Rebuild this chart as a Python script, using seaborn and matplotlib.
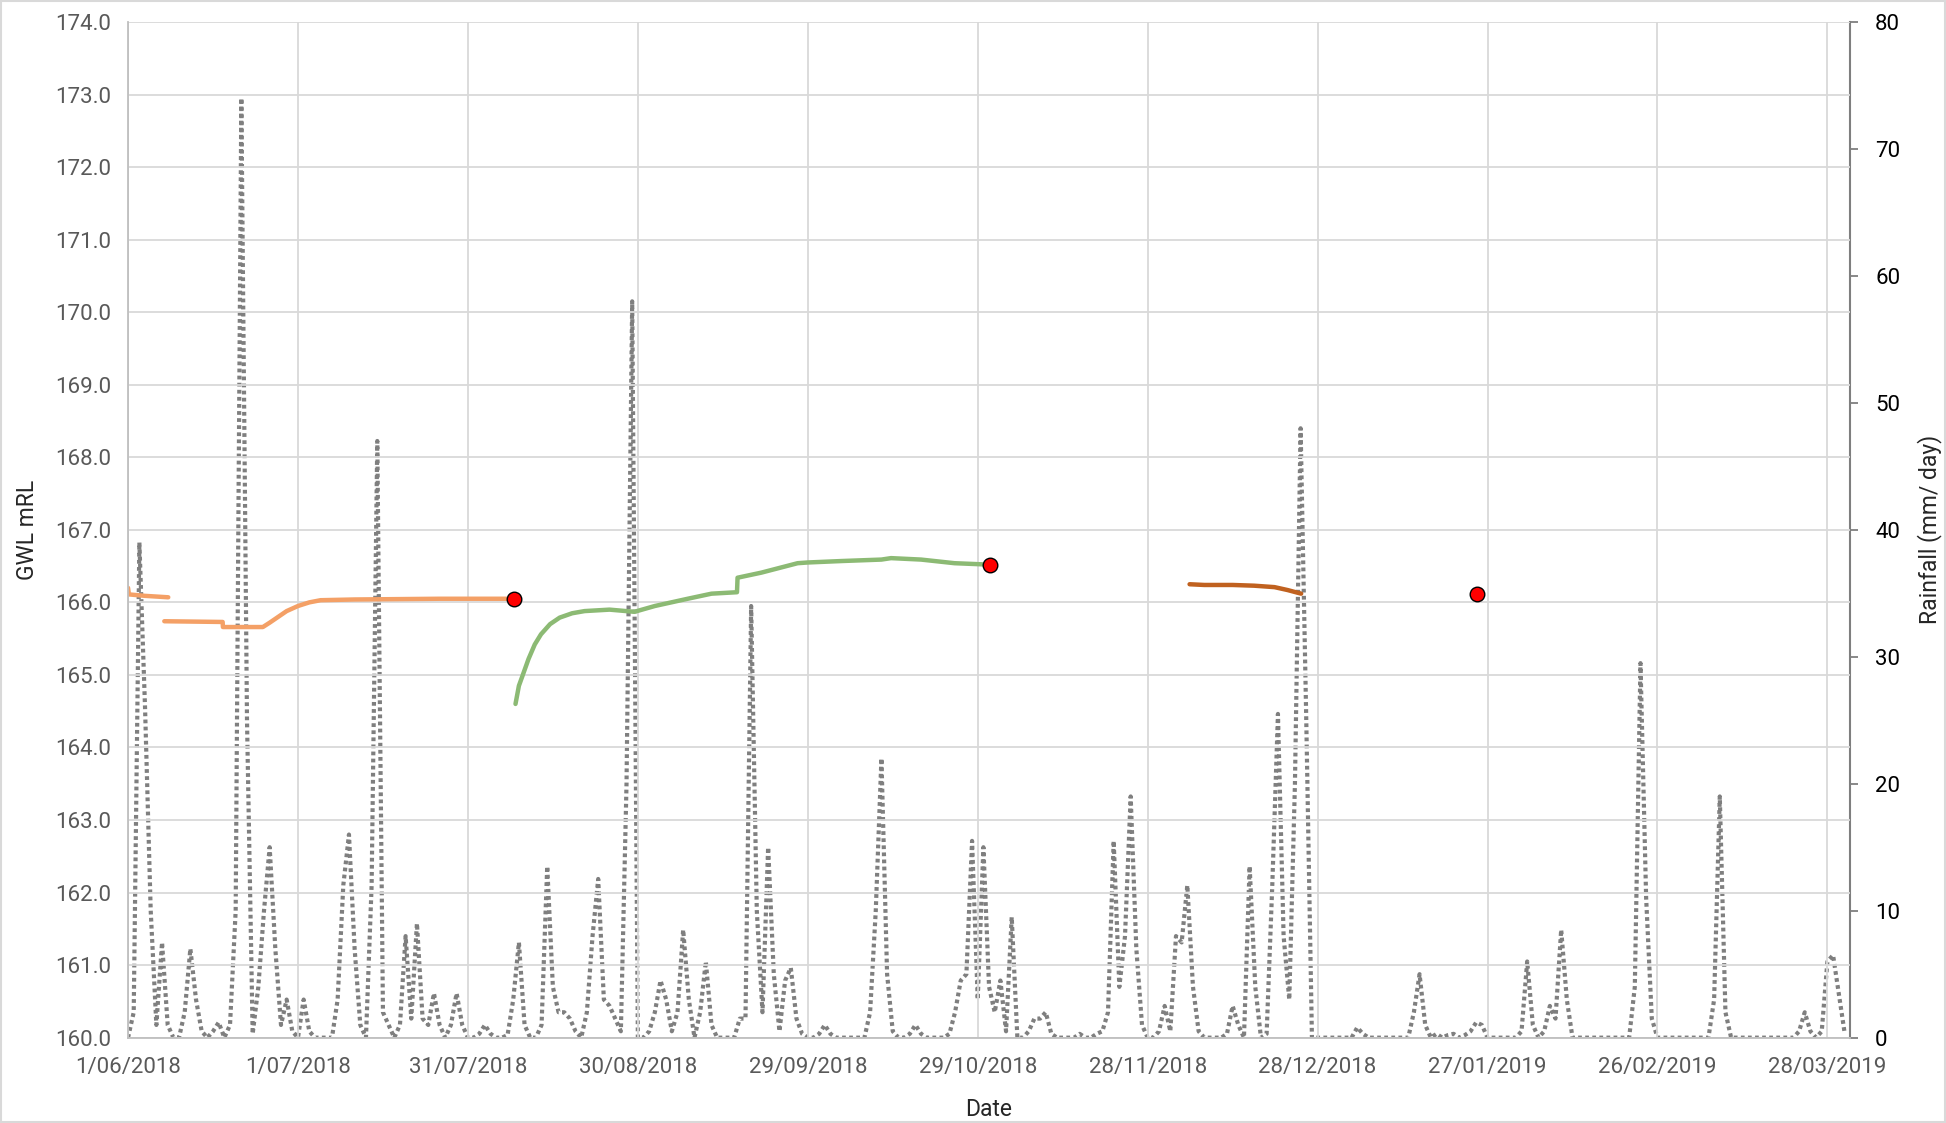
import pandas as pd
import matplotlib
matplotlib.use('Agg')
import matplotlib.pyplot as plt
from matplotlib.patches import Rectangle
import seaborn as sns

sns.set_style("white")
plt.rcParams['font.family'] = ['Roboto', 'DejaVu Sans']

# Datos: dias desde 1/06/2018
start = pd.Timestamp('2018-06-01')

# lluvia diaria (mm/dia), dia 0 .. 303
rain_mm = [
    0, 2, 39, 26, 10, 1, 7.5, 1, 0, 0,
    2, 7, 3, 0.5, 0, 0.5, 1.2, 0, 1, 10,
    74, 25, 0.3, 4, 10, 15, 7, 1, 3, 0.5,
    0, 3, 0.5, 0, 0, 0, 0, 3, 12, 16,
    7, 1, 0, 12, 47, 2, 1, 0, 1, 8,
    1.5, 9, 1.5, 1, 3.5, 1, 0, 1, 3.5, 1,
    0, 0, 0.3, 1, 0.3, 0, 0, 0.2, 3, 7.5,
    1, 0, 0, 1, 13.5, 4, 2, 2, 1.5, 0.5,
    0, 2, 8, 12.5, 3, 2.5, 1.5, 0.5, 20, 58,
    0, 0, 0.5, 2, 4.5, 3, 0.5, 2, 8.5, 3,
    0, 2, 6, 1, 0, 0, 0, 0, 1.5, 1.5,
    34, 10, 2, 15, 5, 0.5, 4.5, 5.5, 1.5, 0.3,
    0, 0, 0.3, 1, 0.3, 0, 0, 0, 0, 0,
    0, 2, 10, 22, 5, 0.5, 0, 0, 0.3, 1,
    0.3, 0, 0, 0, 0, 0.3, 2, 4.5, 5, 15.5,
    3, 15, 4, 2, 4.5, 0.5, 9.5, 0, 0, 0.5,
    1.5, 1.5, 2, 0.3, 0, 0, 0, 0, 0.3, 0,
    0, 0.3, 0.5, 2, 15.5, 4, 8, 19, 7, 1,
    0, 0, 0.5, 2.5, 0.5, 8, 7.5, 12, 4, 0.5,
    0, 0, 0, 0, 0.3, 2.5, 1, 0, 13.5, 4,
    0, 0.3, 12, 25.5, 8, 3, 20, 48, 25, 0,
    0, 0, 0, 0, 0, 0, 0, 0.8, 0.3, 0,
    0, 0, 0, 0, 0, 0, 0, 2, 5, 1,
    0, 0.3, 0, 0.2, 0.3, 0, 0.2, 0.5, 1.2, 1,
    0, 0, 0, 0, 0, 0, 0.5, 6, 1, 0,
    0.5, 2.5, 1.5, 8.5, 3, 0, 0, 0, 0, 0,
    0, 0, 0, 0, 0, 0, 4, 29.5, 11, 1.5,
    0, 0, 0, 0, 0, 0, 0, 0, 0, 0,
    3, 19, 2, 0, 0, 0, 0, 0, 0, 0,
    0, 0, 0, 0, 0, 0.5, 2, 0.5, 0, 0.5,
    6, 6.5, 3.5, 0.5,
]
rain_day = list(range(len(rain_mm)))

# nivel freatico (mRL) por tramo
orange1_day = [0, 0.15, 3, 7.1]
orange1_gwl = [166.2, 166.11, 166.09, 166.07]

orange2_day = [6.4, 16.7, 16.75, 23.8, 25, 26.5, 28, 30, 32, 34, 40, 55, 68]
orange2_gwl = [165.74, 165.73, 165.66, 165.66, 165.72, 165.80, 165.88, 165.95, 166.00, 166.03, 166.04, 166.05, 166.05]

green_day = [68.4, 69.0, 69.6, 70.7, 71.8, 72.9, 74.5, 76.2, 78.4, 80.6, 85, 89.4,
             93, 98.8, 103, 107.5, 107.6, 111.8, 118.2, 120, 126, 133, 134.7, 140, 145.9, 152.2]
green_gwl = [164.60, 164.85, 164.98, 165.22, 165.42, 165.56, 165.70, 165.79, 165.85, 165.88, 165.90, 165.87,
             165.95, 166.05, 166.12, 166.14, 166.34, 166.41, 166.54, 166.55, 166.57, 166.59, 166.61, 166.59, 166.54, 166.52]

brown_day = [187.4, 190, 195, 198.8, 202.4, 204.7, 207.1]
brown_gwl = [166.25, 166.24, 166.24, 166.23, 166.21, 166.17, 166.12]

manual_day = [68.2, 152.2, 238.2]
manual_gwl = [166.05, 166.52, 166.12]

tick_days = [0, 30, 60, 90, 120, 150, 180, 210, 240, 270, 300]


def to_dates(days):
    return start + pd.to_timedelta(days, unit='D')


fig = plt.figure(figsize=(19.46, 11.23), dpi=100)
ax = fig.add_axes([0.0658, 0.0760, 0.8849, 0.9044])
ax2 = ax.twinx()

# lluvia (eje derecho)
rain_df = pd.DataFrame({'fecha': to_dates(rain_day), 'lluvia': rain_mm})
sns.lineplot(data=rain_df, x='fecha', y='lluvia', ax=ax2, color='#7f7f7f',
             linewidth=3.0, linestyle=(0, (0.9, 0.8)), dash_capstyle='butt', sort=False)

# GWL (eje izquierdo)
segs = [(orange1_day, orange1_gwl, '#f4a066'),
        (orange2_day, orange2_gwl, '#f4a066'),
        (green_day, green_gwl, '#8cba74'),
        (brown_day, brown_gwl, '#c0611f')]
for d, g, c in segs:
    seg_df = pd.DataFrame({'fecha': to_dates(d), 'gwl': g})
    sns.lineplot(data=seg_df, x='fecha', y='gwl', ax=ax, color=c, linewidth=3.2, sort=False)

man_df = pd.DataFrame({'fecha': to_dates(manual_day), 'gwl': manual_gwl})
sns.scatterplot(data=man_df, x='fecha', y='gwl', ax=ax, color='#ff0000',
                edgecolor='black', linewidth=1, s=110, zorder=5)

ax.set_zorder(ax2.get_zorder() + 1)
ax.patch.set_visible(False)

# ejes
ax.set_ylim(160, 174)
ax.set_yticks([160 + i for i in range(15)])
ax.set_yticklabels([f"{160 + i:.1f}" for i in range(15)])
ax2.set_ylim(0, 80)
ax2.set_yticks(range(0, 81, 10))
ax.set_xlim(to_dates([0])[0], to_dates([304])[0])
ax.set_xticks(to_dates(tick_days))
ax.set_xticklabels([f"{d.day}/{d.month:02d}/{d.year}" for d in to_dates(tick_days)])

ax.grid(True, color='#d9d9d9', linewidth=1.3)
ax2.grid(False)

ax.tick_params(axis='y', length=0, labelsize=16, labelcolor='#595959', pad=12)
ax.tick_params(axis='x', length=0, labelsize=16, labelcolor='#595959', pad=14)
ax2.tick_params(axis='y', length=6, width=1.3, color='#7f7f7f', labelsize=16,
                labelcolor='black', pad=12)

ax.spines['top'].set_visible(False)
ax2.spines['top'].set_visible(False)
ax.spines['left'].set_color('#bfbfbf')
ax.spines['left'].set_linewidth(1.3)
ax.spines['bottom'].set_color('#bfbfbf')
ax.spines['bottom'].set_linewidth(1.3)
ax.spines['right'].set_visible(False)
ax2.spines['left'].set_visible(False)
ax2.spines['bottom'].set_visible(False)
ax2.spines['right'].set_color('#7f7f7f')
ax2.spines['right'].set_linewidth(1.5)

ax.set_xlabel('Date', fontsize=16.5, labelpad=14)
ax.set_ylabel('GWL mRL', fontsize=16.5, labelpad=12)
ax2.set_ylabel('Rainfall (mm/ day)', fontsize=16.5, labelpad=12)

# borde del area del grafico
fig.patches.append(Rectangle((0.0005, 0.0005), 0.999, 0.999, transform=fig.transFigure,
                             fill=False, edgecolor='#d9d9d9', linewidth=1.5))

plt.savefig('out.png', dpi=100)
